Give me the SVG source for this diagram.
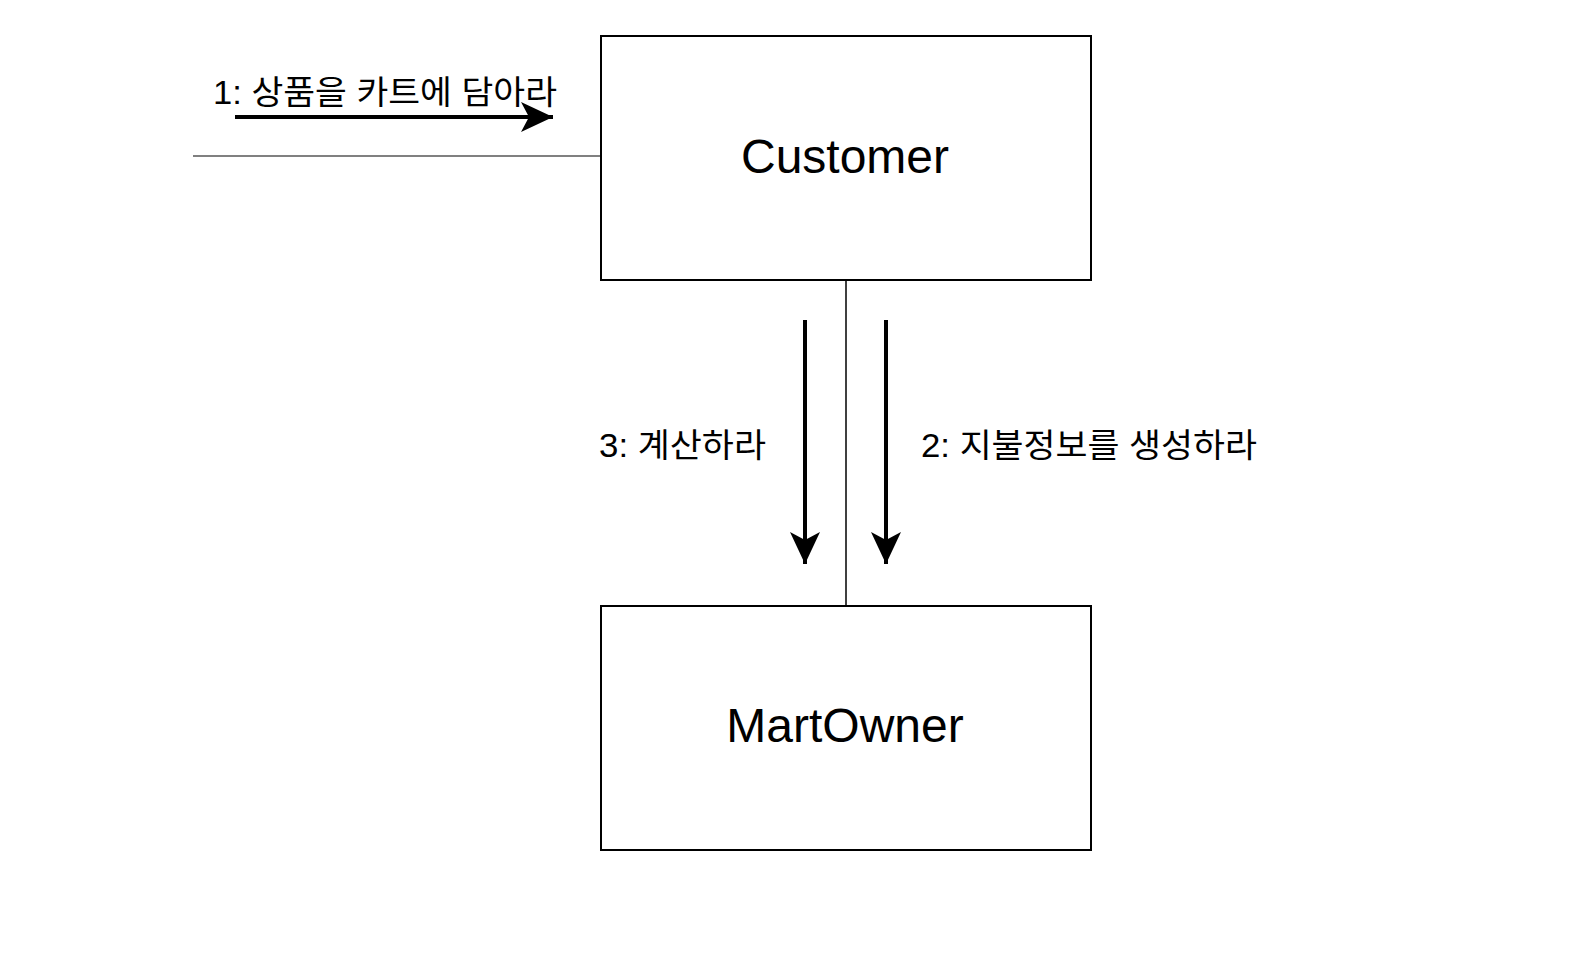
<svg xmlns="http://www.w3.org/2000/svg" width="1572" height="954" viewBox="0 0 1572 954">
<style>
.box{fill:#fff;stroke:#000;stroke-width:2}
.lbl{font-family:"Liberation Sans","Noto Sans CJK KR",sans-serif;fill:#000}
.name{font-size:48px;text-anchor:middle}
.msg{font-size:33px}
.arr{stroke:#000;stroke-width:4;fill:none}
</style>
<defs>
<marker id="ah" markerUnits="userSpaceOnUse" markerWidth="34" markerHeight="32" refX="32" refY="16" orient="auto" viewBox="0 0 34 32">
<path d="M0,1 L32,16 L0,31 L8,16 Z" fill="#000"/>
</marker>
</defs>
<rect width="1572" height="954" fill="#fff"/>
<g id="connectors">
<line x1="193" y1="156" x2="601" y2="156" stroke="#808080" stroke-width="2"/>
<line x1="846" y1="280" x2="846" y2="606" stroke="#000" stroke-width="1.5"/>
<line class="arr" x1="235" y1="117" x2="553" y2="117" marker-end="url(#ah)"/>
<line class="arr" x1="805" y1="320" x2="805" y2="564" marker-end="url(#ah)"/>
<line class="arr" x1="886" y1="320" x2="886" y2="564" marker-end="url(#ah)"/>
<text class="lbl msg" x="213" y="104" textLength="344" lengthAdjust="spacingAndGlyphs">1: 상품을 카트에 담아라</text>
<text class="lbl msg" x="599" y="457" textLength="167" lengthAdjust="spacingAndGlyphs">3: 계산하라</text>
<text class="lbl msg" x="921" y="457" textLength="336" lengthAdjust="spacingAndGlyphs">2: 지불정보를 생성하라</text>
</g>
<g id="customer">
<rect class="box" x="601" y="36" width="490" height="244"/>
<text class="lbl name" x="845" y="173">Customer</text>
</g>
<g id="martowner">
<rect class="box" x="601" y="606" width="490" height="244"/>
<text class="lbl name" x="845" y="742">MartOwner</text>
</g>
</svg>
